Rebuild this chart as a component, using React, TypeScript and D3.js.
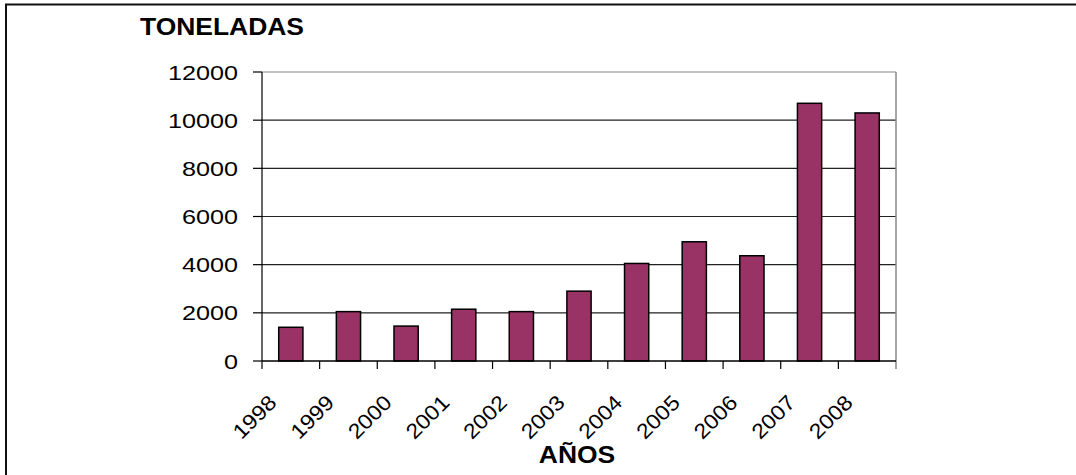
import React from 'react';
import * as d3 from 'd3';

const years = ['1998', '1999', '2000', '2001', '2002', '2003', '2004', '2005', '2006', '2007', '2008'];
const tons = [1400, 2050, 1450, 2150, 2050, 2900, 4050, 4950, 4370, 10700, 10300];
const yTicks = [0, 2000, 4000, 6000, 8000, 10000, 12000];

const W = 1076;
const H = 475;
const margin = { top: 72, right: 180, bottom: 114, left: 262 };
const font = '"Liberation Sans", Arial, sans-serif';

export default function App() {
  const x = d3.scaleBand<string>()
    .domain(years)
    .range([margin.left, W - margin.right])
    .paddingInner(0)
    .paddingOuter(0);

  const y = d3.scaleLinear()
    .domain([0, 12000])
    .range([H - margin.bottom, margin.top]);

  const bw = x.bandwidth() * 0.42;
  const x0 = margin.left;
  const x1 = W - margin.right;
  const y0 = y(0);

  return (
    <svg width={W} height={H} style={{ position: 'absolute', left: 0, top: 0, background: '#fff' }}
      fontFamily={font}>
      {/* outer frame (only top and left edges are visible) */}
      <path d={`M6,${H + 5} V4.5 H${W + 5}`} fill="none" stroke="#111" strokeWidth={2} />

      {/* gridlines */}
      {yTicks.filter(t => t > 0).map(t => (
        <line key={t} x1={x0} x2={x1} y1={y(t)} y2={y(t)}
          stroke={t === 12000 ? '#888' : '#222'} strokeWidth={1.2} />
      ))}
      {/* plot area right border */}
      <line x1={x1} x2={x1} y1={y(12000)} y2={y0 + 8} stroke="#888" strokeWidth={1.5} />

      {/* bars */}
      {years.map((yr, i) => {
        const cx = (x(yr) as number) + x.bandwidth() / 2;
        return (
          <rect key={yr} x={cx - bw / 2} y={y(tons[i])} width={bw} height={y0 - y(tons[i])}
            fill="#993366" stroke="#000" strokeWidth={1.5} />
        );
      })}

      {/* y axis */}
      <line x1={x0} x2={x0} y1={y(12000)} y2={y0} stroke="#000" strokeWidth={1.2} />
      {yTicks.map(t => (
        <g key={t}>
          <line x1={x0 - 9} x2={x0} y1={y(t)} y2={y(t)} stroke="#000" strokeWidth={1.2} />
          <text transform={`translate(238,${y(t) + 7.5}) scale(1.2,1)`} textAnchor="end"
            fontSize={21} fill="#000">{t}</text>
        </g>
      ))}

      {/* x axis */}
      <line x1={x0} x2={x1} y1={y0} y2={y0} stroke="#000" strokeWidth={1.5} />
      {years.map((yr) => (
        <line key={'t' + yr} x1={x(yr) as number} x2={x(yr) as number} y1={y0} y2={y0 + 8}
          stroke="#000" strokeWidth={1.2} />
      ))}
      {years.map((yr) => {
        const cx = (x(yr) as number) + x.bandwidth() / 2;
        return (
          <text key={'l' + yr} transform={`translate(${cx - 13},${y0 + 43}) rotate(-45) scale(1.1,1)`}
            textAnchor="end" fontSize={21} fill="#000">{yr}</text>
        );
      })}

      {/* axis titles */}
      <text transform="translate(222,35) scale(1.15,1)" textAnchor="middle" fontSize={23}
        fontWeight="bold" fill="#000">TONELADAS</text>
      <text transform={`translate(${(x0 + x1) / 2 - 2},463) scale(1.15,1)`} textAnchor="middle"
        fontSize={23} fontWeight="bold" fill="#000">AÑOS</text>
    </svg>
  );
}
